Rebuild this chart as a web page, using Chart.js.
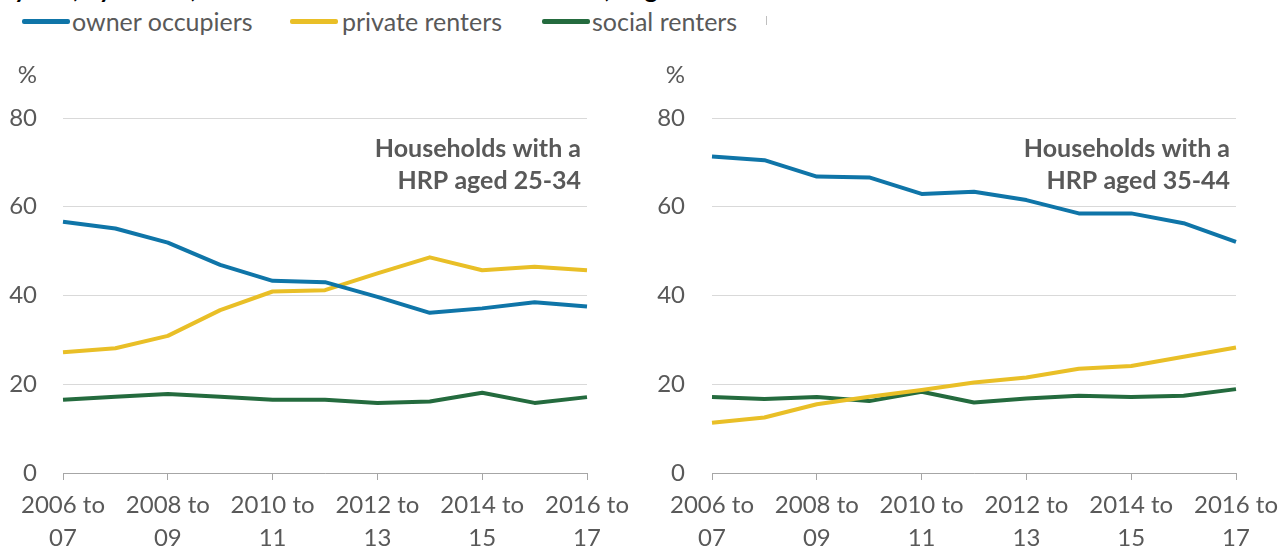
<!DOCTYPE html>
<html><head><meta charset="utf-8">
<script src="https://cdn.jsdelivr.net/npm/chart.js@4.4.0/dist/chart.umd.min.js"></script>
<style>
html,body{margin:0;padding:0;background:#fff;width:1280px;height:551px;overflow:hidden;font-family:Lato,sans-serif}
#title{position:absolute;left:14px;top:-27px;font-weight:bold;font-size:25px;color:#000;white-space:nowrap}
.lg{position:absolute;top:7px;height:28px;line-height:28px;font-size:25px;color:#595959;white-space:nowrap}
.sw{position:absolute;height:5px;top:19px;border-radius:2px}
#tick{position:absolute;left:766px;top:16px;width:1px;height:9px;background:#bfbfbf}
.wrap{position:absolute;top:0;width:640px;height:551px}
canvas{display:block}
</style></head>
<body>
<div id="title">years, by tenure, between 2006 to 07 and 2016 to 17, England</div>
<div class="sw" style="left:22px;width:48px;background:#0f75a8"></div>
<div class="lg" style="left:72px">owner occupiers</div>
<div class="sw" style="left:290px;width:48px;background:#e9bf27"></div>
<div class="lg" style="left:342px">private renters</div>
<div class="sw" style="left:542px;width:48px;background:#246b3e"></div>
<div class="lg" style="left:592px">social renters</div>
<div id="tick"></div>
<div class="wrap" style="left:0"><canvas id="c1" width="640" height="551"></canvas></div>
<div class="wrap" style="left:640px"><canvas id="c2" width="640" height="551"></canvas></div>
<script>
const categories = [["2006 to","07"],["2007 to","08"],["2008 to","09"],["2009 to","10"],["2010 to","11"],["2011 to","12"],["2012 to","13"],["2013 to","14"],["2014 to","15"],["2015 to","16"],["2016 to","17"]];
const seriesNames = ["owner occupiers","private renters","social renters"];
const seriesColors = ["#0f75a8","#e9bf27","#246b3e"];
const yTicks = [0,20,40,60,80];

// Households with a HRP aged 25-34
const owner2534   = [56.6,55.1,51.9,46.9,43.3,43.0,39.7,36.1,37.1,38.5,37.5];
const private2534 = [27.2,28.1,30.9,36.7,40.9,41.2,45.0,48.6,45.7,46.5,45.7];
const social2534  = [16.5,17.2,17.8,17.2,16.5,16.5,15.8,16.1,18.1,15.8,17.1];
// Households with a HRP aged 35-44
const owner3544   = [71.3,70.5,66.8,66.6,62.9,63.4,61.5,58.5,58.5,56.3,52.1];
const private3544 = [11.3,12.5,15.5,17.2,18.7,20.4,21.5,23.5,24.1,26.2,28.3];
const social3544  = [17.1,16.7,17.1,16.2,18.3,15.9,16.8,17.4,17.1,17.4,18.9];

const panelNotes = [["Households with a","HRP aged 25-34"],["Households with a","HRP aged 35-44"]];

const textGray = '#595959';

function makeChart(id, data, note, yWidth, yPad, padRight){
  const notePlugin = {
    id:'note'+id,
    afterDraw(chart){
      const ctx = chart.ctx, a = chart.chartArea;
      ctx.save();
      ctx.fillStyle = textGray;
      ctx.font = 'bold 25px Lato';
      ctx.textAlign = 'right';
      ctx.textBaseline = 'middle';
      ctx.fillText(note[0], a.right - 6, 149);
      ctx.fillText(note[1], a.right - 6, 181);
      ctx.font = '24px Lato';
      ctx.fillText('%', a.left - yPad, 75);
      ctx.restore();
    }
  };
  return new Chart(document.getElementById(id), {
    type:'line',
    data:{
      labels: categories,
      datasets: data.map((d,i)=>({
        label: seriesNames[i], data: d, borderColor: seriesColors[i], backgroundColor: seriesColors[i],
        borderWidth: 4, pointRadius: 0, tension: 0, fill:false, borderJoinStyle:'round'
      }))
    },
    options:{
      responsive:false, animation:false,
      layout:{padding:{top:118,right:padRight,bottom:0,left:0}},
      plugins:{legend:{display:false},tooltip:{enabled:false}},
      scales:{
        x:{
          type:'category', offset:false,
          border:{display:true,color:'#a6a6a6',width:1},
          grid:{drawOnChartArea:false,drawTicks:true,tickLength:7,color:'#a6a6a6'},
          ticks:{autoSkip:false,maxRotation:0,minRotation:0,padding:8,color:textGray,
            font:{family:'Lato',size:24,lineHeight:1.4},
            callback:(v,i)=> i%2===0 ? categories[i] : null},
          afterFit:s=>{s.height=78; s.paddingLeft=0; s.paddingRight=0;}
        },
        y:{
          min:0,max:80,
          afterBuildTicks:s=>{s.ticks = yTicks.map(v=>({value:v}));},
          ticks:{padding:yPad,color:textGray,font:{family:'Lato',size:24}},
          border:{display:false},
          grid:{color:'#d9d9d9',drawTicks:false,lineWidth:1},
          afterFit:s=>{s.width=yWidth;}
        }
      }
    },
    plugins:[notePlugin]
  });
}
makeChart('c1',[owner2534,private2534,social2534],panelNotes[0],63,26,53);
makeChart('c2',[owner3544,private3544,social3544],panelNotes[1],72,27,44);
</script>
</body></html>
